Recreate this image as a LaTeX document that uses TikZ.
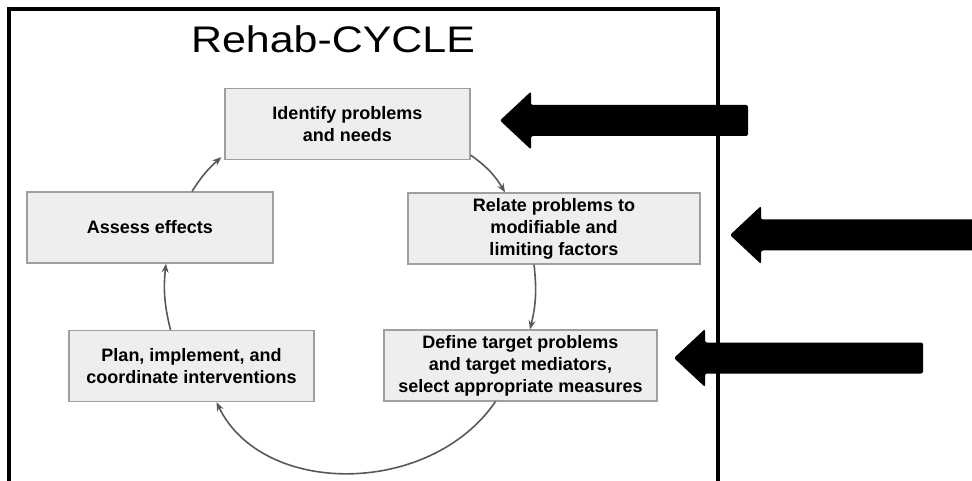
\documentclass[tikz,border=0pt]{standalone}
\usepackage{fontspec}
\setsansfont{Liberation Sans}
\usetikzlibrary{arrows.meta}

\begin{document}
\begin{tikzpicture}[x=1pt,y=-1pt]
\tikzstyle{stage}=[draw=gray!75, fill=gray!13, line width=1.2pt, minimum height=71pt,
  align=center, font=\sffamily\bfseries\fontsize{18}{22}\selectfont, inner sep=0pt]
\tikzstyle{cyc}=[-{Stealth[length=9pt,width=7pt]}, line width=1.6pt, black!65]
\useasboundingbox (0,0) rectangle (972,481);
% frame, open at the bottom
\draw[line width=4pt] (9,481) -- (9,9) -- (717.5,9) -- (717.5,481);
\node[font=\sffamily\fontsize{37}{40}\selectfont, anchor=base] (title) at (333,53)
  {\scalebox{1.16}[1]{Rehab-CYCLE}};
\node[stage, minimum width=245pt] (ident) at (347.5,124) {Identify problems\\and needs};
\node[stage, minimum width=292pt] (relate) at (554,228.5) {Relate problems to\\modifiable and\\limiting factors};
\node[stage, minimum width=273pt] (define) at (520.5,365.5) {Define target problems\\and target mediators,\\select appropriate measures};
\node[stage, minimum width=245pt] (plan) at (191.5,366) {Plan, implement, and\\coordinate interventions};
\node[stage, minimum width=246pt] (assess) at (150,227.5) {Assess effects};
% the cycle
\draw[cyc] ([yshift=5pt]ident.south east) to[bend left=12] ([xshift=-49pt]relate.north);
\draw[cyc] ([xshift=-20pt]relate.south) to[bend left=10] ([xshift=9.5pt]define.north);
\draw[cyc] ([xshift=-25pt]define.south) .. controls (430,497) and (262,497) .. ([xshift=25pt]plan.south);
\draw[cyc] ([xshift=-21pt]plan.north) to[bend left=10] ([xshift=16pt]assess.south);
\draw[cyc] ([xshift=42pt]assess.north) to[bend left=8] ([xshift=-3pt,yshift=3pt]ident.south west);
% pointers
\foreach \tx/\ty/\ex in {500/120.5/748, 730/235/975, 674/358/923}
  \fill[rounded corners=2pt] (\tx,\ty) -- (\tx+31,\ty-29) -- (\tx+31,\ty-15.5) -- (\ex,\ty-15.5)
    -- (\ex,\ty+15.5) -- (\tx+31,\ty+15.5) -- (\tx+31,\ty+29) -- cycle;
\end{tikzpicture}
\end{document}
